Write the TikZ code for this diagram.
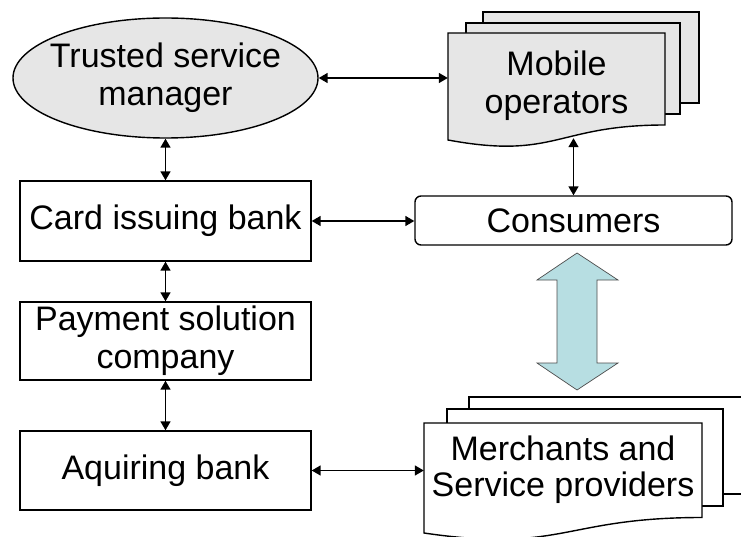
\documentclass[tikz,border=0pt]{standalone}
\usepackage{fontspec}
\setmainfont{Liberation Sans}
\usetikzlibrary{shapes.geometric,arrows.meta}
\definecolor{docgray}{HTML}{E6E6E6}
\definecolor{flecha}{RGB}{183,222,226}
\tikzset{
  caja/.style={draw, line width=1.4pt, inner sep=0pt, align=center},
  texto/.style={inner sep=0pt, align=center},
  con/.style={<->, line width=1.5pt, >={Triangle[length=9pt,width=10pt]}},
}
\begin{document}
\begin{tikzpicture}[x=1pt, y=-1pt, font=\fontsize{34}{38}\selectfont]

    \useasboundingbox (0,0) rectangle (741,537);

    % Documentos
    \filldraw[fill=docgray, line width=1.4pt] (483,12) rectangle (699,103);
    \filldraw[fill=docgray, line width=1.4pt] (466,23) rectangle (680,114);
    \filldraw[fill=docgray, line width=1.4pt] (448,33) -- (665,33) -- (665,125)
        .. controls (556,125) and (556,160) .. (448,140) -- cycle;

    \filldraw[fill=white, line width=1.4pt] (469,397) rectangle (760,494);
    \filldraw[fill=white, line width=1.4pt] (447,409) rectangle (723,506);
    \filldraw[fill=white, line width=1.4pt] (424,423) -- (702,423) -- (702,517.5)
        .. controls (563,517.5) and (563,553.4) .. (424,533) -- cycle;

    % Nodos
    \node[caja, ellipse, fill=docgray, inner xsep=-8pt, minimum width=305pt, minimum height=120pt] (tsm) at (165.5,78) {Trusted service\\manager};
    \node[texto, minimum width=217pt, minimum height=105pt] (mob) at (556.5,85.5) {Mobile\\operators};
    \node[caja, rounded corners=6pt, minimum width=317pt, minimum height=49pt] (cons) at (573.5,220.5) {Consumers};

    \node[caja, minimum width=291pt, minimum height=80pt] (card) at (165.5,221) {Card issuing bank};
    \node[caja, minimum width=291pt, minimum height=78pt] (pay) at (165.5,341) {Payment solution\\company};
    \node[caja, minimum width=291pt, minimum height=79pt] (aq) at (165.5,470.5) {Aquiring bank};
    \node[texto, minimum width=278pt, minimum height=94pt, font=\fontsize{34}{36}\selectfont] (merch) at (563,470) {Merchants and\\Service providers};

    % Conexiones
    \draw[con] (tsm.east) -- (tsm.east -| mob.west);
    \draw[con] (cons.north |- mob.south) -- (cons.north);
    \draw[con] (tsm.south) -- (card.north);
    \draw[con] (card.east) -- (card.east -| cons.west);
    \draw[con] (card.south) -- (pay.north);
    \draw[con] (pay.south) -- (aq.north);
    \draw[con] (aq.east) -- (aq.east -| merch.west);

    % Flecha doble
    \filldraw[fill=flecha, draw=black!70, line width=0.7pt] (577,253) -- (618,280) -- (597,280) -- (597,363)
        -- (618,363) -- (577,390) -- (537,363) -- (557,363) -- (557,280) -- (537,280) -- cycle;

\end{tikzpicture}
\end{document}
